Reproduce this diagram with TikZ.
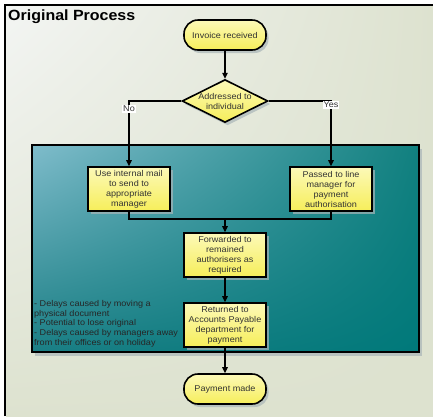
\documentclass[tikz,border=0pt]{standalone}
\usepackage{fontspec}
\setmainfont{Liberation Sans}[FakeStretch=1.08]
\usetikzlibrary{shapes.geometric,shadows,shadings,arrows.meta}
\definecolor{bgA}{HTML}{F3F5F3}
\definecolor{bgB}{HTML}{DDE2CF}
\definecolor{tealA}{HTML}{7FBCCB}
\definecolor{tealB}{HTML}{11807F}
\definecolor{tealC}{HTML}{1A7E84}
\definecolor{tealD}{HTML}{00797A}
\definecolor{yelA}{HTML}{FCF9B8}
\definecolor{yelB}{HTML}{F6EE5A}
\definecolor{shad}{HTML}{A9B5B8}
\begin{document}
\begin{tikzpicture}[x=1pt,y=-1pt,
  boxtext/.style={font=\fontsize{8.4}{10}\selectfont, text=black!80, align=center},
  yfill/.style={top color=yelA, bottom color=yelB, draw=black, line width=1.6pt,
    drop shadow={shadow xshift=2.5pt,shadow yshift=-3pt,fill=shad,opacity=0.7}},
  procbox/.style={yfill, boxtext, rectangle, minimum width=82pt, minimum height=44pt, inner sep=1pt},
  termbox/.style={yfill, boxtext, rectangle, rounded corners=14pt, minimum width=82pt, minimum height=30pt},
  decbox/.style={yfill, boxtext, diamond, aspect=2, inner sep=0pt, minimum width=81pt, minimum height=42pt},
  conn/.style={line width=1.2pt, draw=black},
  arr/.style={conn, -{Triangle[length=6pt,width=5.5pt]}},
  lbl/.style={fill=white, inner sep=1pt, font=\fontsize{8.4}{10}\selectfont, text=black!80}
]
\useasboundingbox (0,0) rectangle (433,416);
% background
\path[shade, upper left=bgA, upper right=bgB, lower left=bgB, lower right=bgB] (6,6) rectangle (433,416);
\draw[line width=2pt] (5,416) -- (5,5) -- (433,5);
\node[anchor=base west, font=\fontsize{14.8}{16}\selectfont\bfseries, inner sep=0pt] (title) at (8,20) {Original Process};
% teal panel
\path[draw=black, line width=1.5pt, shade, upper left=tealA, upper right=tealB, lower left=tealC, lower right=tealD,
  drop shadow={shadow xshift=3pt,shadow yshift=-4pt,fill=shad,opacity=0.7}] (32,145) rectangle (419,352);
% nodes
\node[termbox] (start) at (225,35) {Invoice received};
\node[decbox] (dec) at (225,101) {Addressed to\\individual};
\node[procbox] (mail) at (129,189) {Use internal mail\\to send to\\appropriate\\manager};
\node[procbox] (line) at (331,189) {Passed to line\\manager for\\payment\\authorisation};
\node[procbox] (fwd) at (225,255) {Forwarded to\\remained\\authorisers as\\required};
\node[procbox] (ret) at (225,325) {Returned to\\Accounts Payable\\department for\\payment};
\node[termbox] (end) at (225,389) {Payment made};
\coordinate (m) at (225,219);
\node[anchor=north west, align=left, font=\fontsize{8.4}{9.8}\selectfont, text=black!85, inner sep=0pt] (notes) at (34,300)
  {- Delays caused by moving a\\physical document\\- Potential to lose original\\- Delays caused by managers away\\from their offices or on holiday};
% connectors
\draw[arr] (start) -- (dec);
\draw[arr] (dec.west) -| node[lbl, pos=0.56] {No} (mail.north);
\draw[arr] (dec.east) -| node[lbl, pos=0.53] {Yes} (line.north);
\draw[conn] (mail.south) |- (m);
\draw[conn] (line.south) |- (m);
\draw[arr] (m) -- (fwd.north);
\draw[arr] (fwd) -- (ret);
\draw[arr] (ret) -- (end);
\end{tikzpicture}
\end{document}
